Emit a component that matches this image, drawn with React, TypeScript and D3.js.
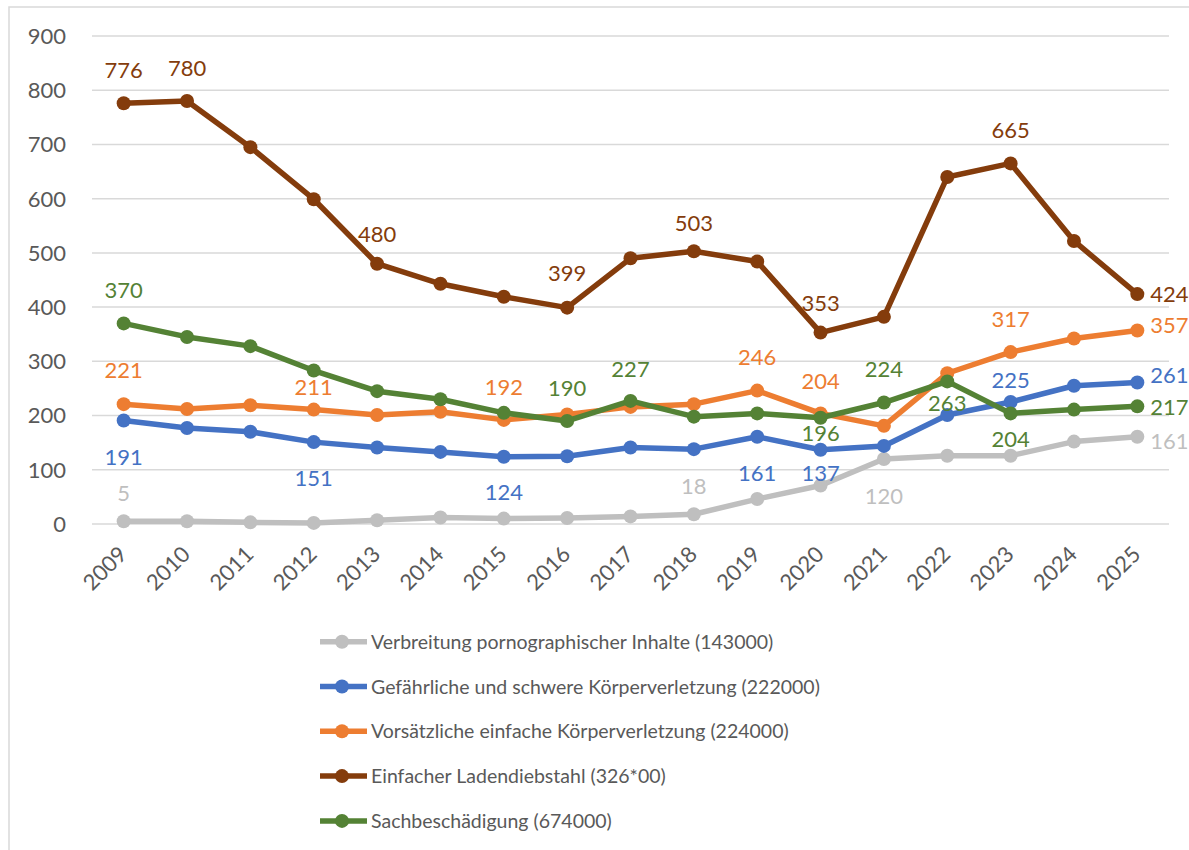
import React, { useEffect, useRef } from "react";
import * as d3 from "d3";

const years = ["2009", "2010", "2011", "2012", "2013", "2014", "2015", "2016", "2017", "2018", "2019", "2020", "2021", "2022", "2023", "2024", "2025"];

const pornoValues = [5, 5, 3, 2, 7, 12, 10, 11, 14, 18, 46, 71, 120, 126, 126, 152, 161];
const gefaehrlichValues = [191, 177, 170, 151, 141, 133, 124, 125, 141, 138, 161, 137, 144, 201, 225, 255, 261];
const vorsaetzlichValues = [221, 212, 219, 211, 201, 207, 192, 202, 216, 221, 246, 204, 181, 278, 317, 342, 357];
const ladenValues = [776, 780, 695, 599, 480, 443, 419, 399, 490, 503, 484, 353, 382, 640, 665, 522, 424];
const sachValues = [370, 345, 328, 283, 245, 230, 205, 190, 227, 198, 204, 196, 224, 263, 204, 211, 217];

const seriesNames = [
  "Verbreitung pornographischer Inhalte (143000)",
  "Gefährliche und schwere Körperverletzung (222000)",
  "Vorsätzliche einfache Körperverletzung (224000)",
  "Einfacher Ladendiebstahl (326*00)",
  "Sachbeschädigung (674000)",
];
const seriesColors = ["#BFBFBF", "#4472C4", "#ED7D31", "#843C0C", "#548235"];

// labelled points: [year index, side ("c" centred / "r" right of point), vertical nudge]
const pornoLabels: [number, string, number][] = [[0, "c", -28], [9, "c", -28], [12, "c", 37], [16, "r", 4]];
const gefaehrlichLabels: [number, string, number][] = [[0, "c", 37], [3, "c", 36], [6, "c", 35], [10, "c", 36], [11, "c", 23], [14, "c", -22], [16, "r", -7]];
const vorsaetzlichLabels: [number, string, number][] = [[0, "c", -34], [3, "c", -23], [6, "c", -33], [10, "c", -34], [11, "c", -32], [14, "c", -33], [16, "r", -5]];
const ladenLabels: [number, string, number][] = [[0, "c", -33], [1, "c", -33], [4, "c", -30], [7, "c", -35], [9, "c", -28], [11, "c", -30], [14, "c", -33], [16, "r", 0]];
const sachLabels: [number, string, number][] = [[0, "c", -33], [7, "c", -33], [8, "c", -32], [11, "c", 15], [12, "c", -33], [13, "c", 22], [14, "c", 26], [16, "r", 1]];

const yTicks = [0, 100, 200, 300, 400, 500, 600, 700, 800, 900];

export default function App() {
  const ref = useRef<SVGSVGElement>(null);

  useEffect(() => {
    const W = 1189, H = 850;
    const font = "Lato, 'Open Sans', sans-serif";
    const svg = d3.select(ref.current);
    svg.selectAll("*").remove();

    const data = [pornoValues, gefaehrlichValues, vorsaetzlichValues, ladenValues, sachValues];
    const labels = [pornoLabels, gefaehrlichLabels, vorsaetzlichLabels, ladenLabels, sachLabels];

    const left = 92, right = 1169, top = 36, bottom = 524;
    const x = d3.scalePoint<string>().domain(years).range([left, right]).padding(0.5);
    const y = d3.scaleLinear().domain([0, 900]).range([bottom, top]);

    svg.append("rect").attr("x", 0).attr("y", 0).attr("width", W).attr("height", H).attr("fill", "#fff");
    svg.append("rect").attr("x", 9).attr("y", 7).attr("width", W).attr("height", H)
      .attr("fill", "none").attr("stroke", "#D9D9D9").attr("stroke-width", 1.5);

    // grid
    svg.append("g").selectAll("line").data(yTicks).join("line")
      .attr("x1", left).attr("x2", right)
      .attr("y1", d => y(d)).attr("y2", d => y(d))
      .attr("stroke", "#D9D9D9").attr("stroke-width", 1.5);

    // y labels
    svg.append("g").selectAll("text").data(yTicks).join("text")
      .attr("x", 66).attr("y", d => y(d)).attr("dy", "0.36em")
      .attr("text-anchor", "end").attr("fill", "#595959")
      .attr("font-family", font).attr("font-size", 22)
      .text(d => d);

    // x labels
    svg.append("g").selectAll("text").data(years).join("text")
      .attr("transform", d => `translate(${x(d)! - 1},${bottom + 26}) rotate(-45)`)
      .attr("dy", "0.36em")
      .attr("text-anchor", "end").attr("fill", "#595959")
      .attr("font-family", font).attr("font-size", 22)
      .text(d => d);

    const line = d3.line<number>().x((_, i) => x(years[i])!).y(d => y(d));

    data.forEach((vals, s) => {
      const g = svg.append("g");
      g.append("path").attr("d", line(vals)).attr("fill", "none")
        .attr("stroke", seriesColors[s]).attr("stroke-width", 5.5).attr("stroke-linejoin", "round");
      g.selectAll("circle").data(vals).join("circle")
        .attr("cx", (_, i) => x(years[i])!).attr("cy", d => y(d)).attr("r", 7)
        .attr("fill", seriesColors[s]);
    });

    data.forEach((vals, s) => {
      svg.append("g").selectAll("text").data(labels[s]).join("text")
        .attr("x", ([i, p]) => x(years[i])! + (p === "r" ? 13 : 0))
        .attr("y", ([i, , dy]) => y(vals[i]) + dy)
        .attr("dy", "0.36em")
        .attr("text-anchor", ([, p]) => (p === "r" ? "start" : "middle"))
        .attr("fill", seriesColors[s])
        .attr("font-family", font).attr("font-size", 22)
        .text(([i]) => vals[i]);
    });

    // legend
    const lg = svg.append("g").selectAll("g").data(seriesNames).join("g")
      .attr("transform", (_, i) => `translate(320,${641.7 + i * 44.8})`);
    lg.append("line").attr("x1", 0).attr("x2", 47).attr("y1", 0).attr("y2", 0)
      .attr("stroke", (_, i) => seriesColors[i]).attr("stroke-width", 5.5);
    lg.append("circle").attr("cx", 22).attr("cy", 0).attr("r", 7).attr("fill", (_, i) => seriesColors[i]);
    lg.append("text").attr("x", 51).attr("dy", "0.36em")
      .attr("fill", "#595959").attr("font-family", font).attr("font-size", 19.5)
      .text(d => d);
  }, []);

  return (
    <svg ref={ref} width={1189} height={850}
      style={{ position: "absolute", left: 0, top: 0, display: "block" }} />
  );
}
